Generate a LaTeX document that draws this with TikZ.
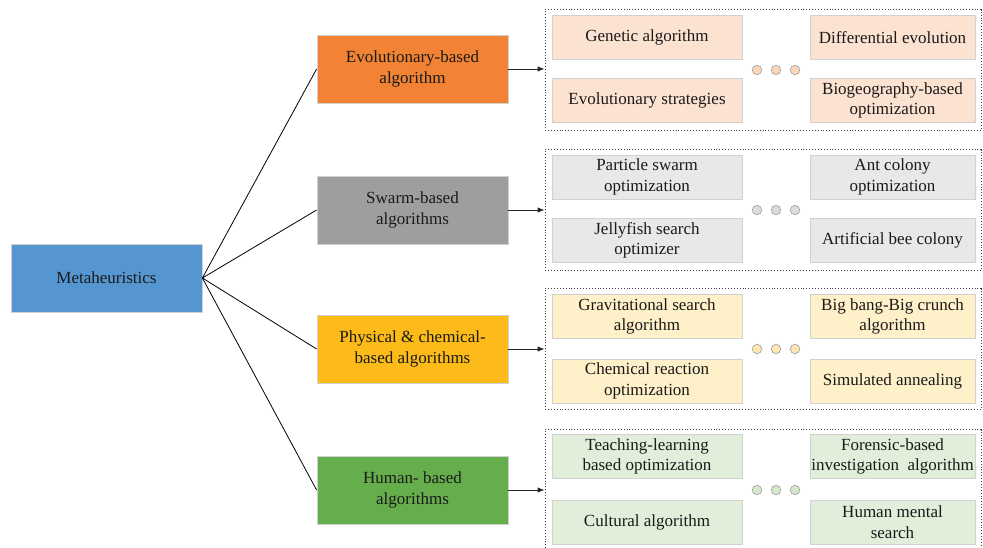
\documentclass[tikz,border=0pt]{standalone}
\usepackage{fontspec}
\setmainfont{Liberation Serif}
\newfontfamily\labelserif{Liberation Serif}
\usetikzlibrary{arrows.meta}

\definecolor{metablue}{HTML}{5596D1}
\definecolor{evoorange}{HTML}{F28234}
\definecolor{swarmgray}{HTML}{9D9EA0}
\definecolor{physyellow}{HTML}{FCBB19}
\definecolor{humangreen}{HTML}{66AE4C}
\definecolor{evolight}{HTML}{FCE2D0}
\definecolor{swarmlight}{HTML}{E8E8E8}
\definecolor{physlight}{HTML}{FEF0C8}
\definecolor{humanlight}{HTML}{E1EED9}
\definecolor{evodot}{HTML}{FAD6BD}
\definecolor{swarmdot}{HTML}{DCDCDC}
\definecolor{physdot}{HTML}{FCE8B0}
\definecolor{humandot}{HTML}{D6E8CB}
\definecolor{inktext}{HTML}{1A1A1A}

\begin{document}
\begin{tikzpicture}[x=1pt,y=-1pt,
  every node/.style={font=\labelserif\fontsize{17}{20.5}\selectfont, text=inktext, align=center, inner sep=0pt},
  box/.style={draw=black!18, line width=0.8pt, rectangle},
  catbox/.style={box, minimum width=191pt, minimum height=68pt},
  itemL/.style={box, minimum width=190pt, minimum height=44pt},
  itemR/.style={box, minimum width=165pt, minimum height=44pt},
  group/.style={draw=black!75, dotted, line width=0.9pt, minimum width=436pt, minimum height=121pt},
  link/.style={line width=0.8pt, black},
  arr/.style={line width=0.9pt, black!85, -{Latex[length=7pt,width=5.5pt]}},
  dot/.style={circle, draw=black!35, line width=0.7pt, minimum size=9.5pt}
]
\useasboundingbox (0,0) rectangle (983,547);

% root
\node[catbox, fill=metablue] (meta) at (106.5,278) {Metaheuristics};

% categories
\node[catbox, fill=evoorange]  (evo)   at (412.5,69)  {Evolutionary-based\\algorithm};
\node[catbox, fill=swarmgray]  (swarm) at (412.5,210) {Swarm-based\\algorithms};
\node[catbox, fill=physyellow] (phys)  at (412.5,349) {Physical \& chemical-\\based algorithms};
\node[catbox, fill=humangreen] (human) at (412.5,490) {Human- based\\algorithms};

% groups of example algorithms
\node[group] (gevo)   at (763,70)  {};
\node[group] (gswarm) at (763,210) {};
\node[group] (gphys)  at (763,349) {};
\node[group] (ghuman) at (763,490) {};

% evolutionary
\node[itemL, fill=evolight] (ga)  at (647,37.5)  {Genetic algorithm};
\node[itemL, fill=evolight] (es)  at (647,100.5) {Evolutionary strategies};
\node[itemR, fill=evolight] (de)  at (892.5,37.5)  {Differential evolution};
\node[itemR, fill=evolight] (bbo) at (892.5,100.5) {Biogeography-based\\optimization};

% swarm
\node[itemL, fill=swarmlight] (pso) at (647,177)  {Particle swarm\\optimization};
\node[itemL, fill=swarmlight] (jso) at (647,240.5) {Jellyfish search\\optimizer};
\node[itemR, fill=swarmlight] (aco) at (892.5,177)  {Ant colony\\optimization};
\node[itemR, fill=swarmlight] (abc) at (892.5,240.5) {Artificial bee colony};

% physical & chemical
\node[itemL, fill=physlight] (gsa)  at (647,316.5) {Gravitational search\\algorithm};
\node[itemL, fill=physlight] (cro)  at (647,381)   {Chemical reaction\\optimization};
\node[itemR, fill=physlight] (bbbc) at (892.5,316.5) {Big bang-Big crunch\\algorithm};
\node[itemR, fill=physlight] (sa)   at (892.5,381)   {Simulated annealing};

% human
\node[itemL, fill=humanlight] (tlbo) at (647,456.5) {Teaching-learning\\based optimization};
\node[itemL, fill=humanlight] (ca)   at (647,522)   {Cultural algorithm};
\node[itemR, fill=humanlight] (fbi)  at (892.5,456.5) {Forensic-based\\investigation\ \ algorithm};
\node[itemR, fill=humanlight] (hms)  at (892.5,522)   {Human mental\\search};

% ellipsis dots
\foreach \g in {evo, swarm, phys, human}{
  \foreach \i/\dx in {1/-19,2/0,3/19}{
    \node[dot, fill=\g dot] (dot\g\i) at ([xshift=\dx pt+13pt]g\g.center) {};
  }
}

% tree links
\foreach \t in {evo, swarm, phys, human}
  \draw[link] (meta.east) -- (\t.west);

% arrows into the groups
\draw[arr] (evo.east)   -- (gevo.west |- evo.east);
\draw[arr] (swarm.east) -- (gswarm.west |- swarm.east);
\draw[arr] (phys.east)  -- (gphys.west |- phys.east);
\draw[arr] (human.east) -- (ghuman.west |- human.east);
\end{tikzpicture}
\end{document}
